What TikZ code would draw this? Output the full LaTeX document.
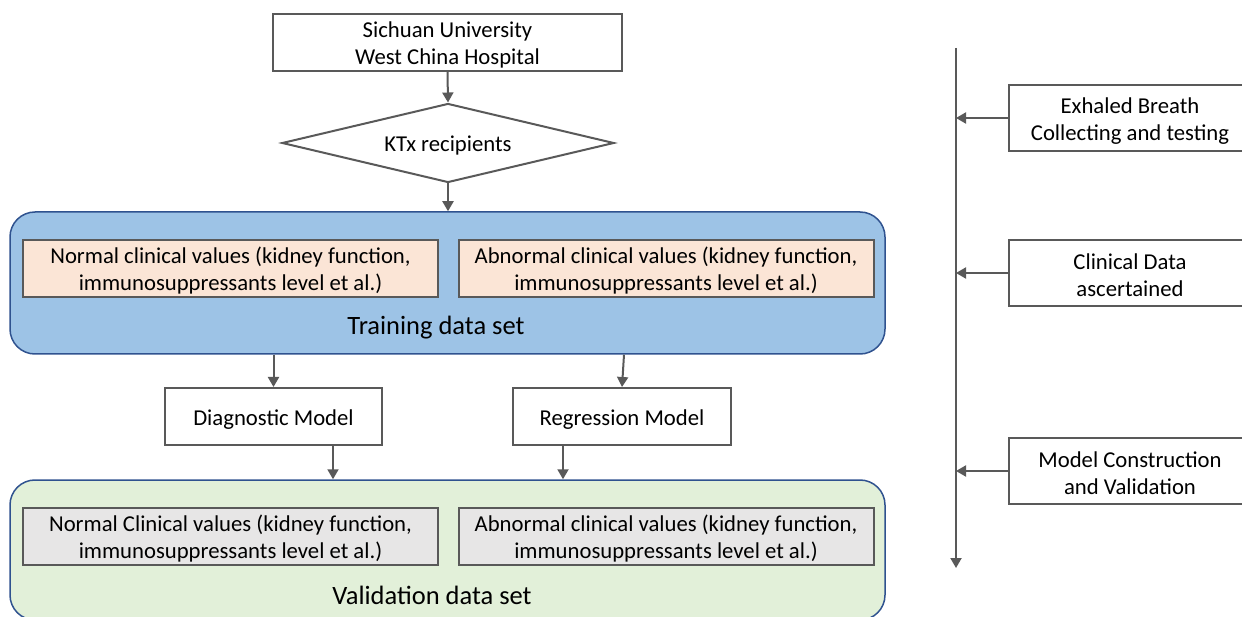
\documentclass[tikz,border=0pt]{standalone}
\usepackage{fontspec}
\setmainfont{Carlito}
\usetikzlibrary{shapes.geometric,arrows.meta}
\definecolor{ln}{HTML}{595959}
\definecolor{bluefill}{HTML}{9DC3E6}
\definecolor{blueline}{HTML}{2F528F}
\definecolor{greenfill}{HTML}{E2F0D9}
\definecolor{peach}{HTML}{FBE5D6}
\definecolor{grayfill}{HTML}{E7E6E6}
\begin{document}
\begin{tikzpicture}[x=1pt,y=-1pt,
  every node/.style={font=\fontsize{22.7}{27}\selectfont, align=center, inner sep=0pt, text height=21pt},
  twoline/.style={text height=48pt},
  box/.style={draw=ln, line width=2pt, fill=white, minimum height=57pt},
  sidebox/.style={box, twoline, minimum width=242pt, minimum height=66pt},
  valbox/.style={draw=ln, line width=2pt, twoline, minimum width=415pt, minimum height=57pt},
  group/.style={draw=blueline, line width=1.5pt, rounded corners=25pt},
  arr/.style={draw=ln, line width=2pt, -{Triangle[length=10pt,width=11pt]}},
  big/.style={font=\fontsize{26.5}{30}\selectfont, text height=24pt}
]
\useasboundingbox (0,0) rectangle (1242,617);

% top
\node[box, twoline, minimum width=349pt] (uni) at (447.5,42.5) {Sichuan University\\West China Hospital};
\node[draw=ln, line width=2pt, diamond, aspect=4.2, minimum width=332pt, minimum height=79pt] (ktx) at (448,143) {KTx recipients};

% training group
\node[group, fill=bluefill, minimum width=875pt, minimum height=142pt] (train) at (447.5,283) {};
\node[valbox, fill=peach] (tn) at (230.5,268.5) {Normal clinical values (kidney function,\\immunosuppressants level et al.)};
\node[valbox, fill=peach] (ta) at (666,268.5) {Abnormal clinical values (kidney function,\\immunosuppressants level et al.)};
\node[big] (tlabel) at (436,325) {Training data set};

% models
\node[box, minimum width=217pt] (diag) at (273.5,416.5) {Diagnostic Model};
\node[box, minimum width=218pt] (reg) at (622,416.5) {Regression Model};

% validation group
\node[group, fill=greenfill, minimum width=875pt, minimum height=140pt] (val) at (447.5,550) {};
\node[valbox, fill=grayfill] (vn) at (230.5,536.5) {Normal Clinical values (kidney function,\\immunosuppressants level et al.)};
\node[valbox, fill=grayfill] (va) at (666,536.5) {Abnormal clinical values (kidney function,\\immunosuppressants level et al.)};
\node[big] (vlabel) at (432,593) {Validation data set};

% arrows
\draw[arr] (uni.south) -- (ktx.north);
\draw[arr] (ktx.south) -- (ktx.south |- train.north);
\draw[arr] (diag.north |- train.south) -- (diag.north);
\draw[arr] ([xshift=2pt]reg.north |- train.south) -- (reg.north);
\draw[arr] ([xshift=59.5pt]diag.south) -- ([xshift=59.5pt]diag.south |- val.north);
\draw[arr] ([xshift=-59pt]reg.south) -- ([xshift=-59pt]reg.south |- val.north);

% right timeline
\coordinate (vtop) at (956,48);
\coordinate (vbot) at (956,568);
\draw[arr] (vtop) -- (vbot);
\node[sidebox] (eb) at (1130,118) {Exhaled Breath\\Collecting and testing};
\node[sidebox] (cd) at (1130,273) {Clinical Data\\ascertained};
\node[sidebox] (mc) at (1130,471) {Model Construction\\and Validation};
\draw[arr] (eb.west) -- (eb.west -| vtop);
\draw[arr] (cd.west) -- (cd.west -| vtop);
\draw[arr] (mc.west) -- (mc.west -| vtop);
\end{tikzpicture}
\end{document}
